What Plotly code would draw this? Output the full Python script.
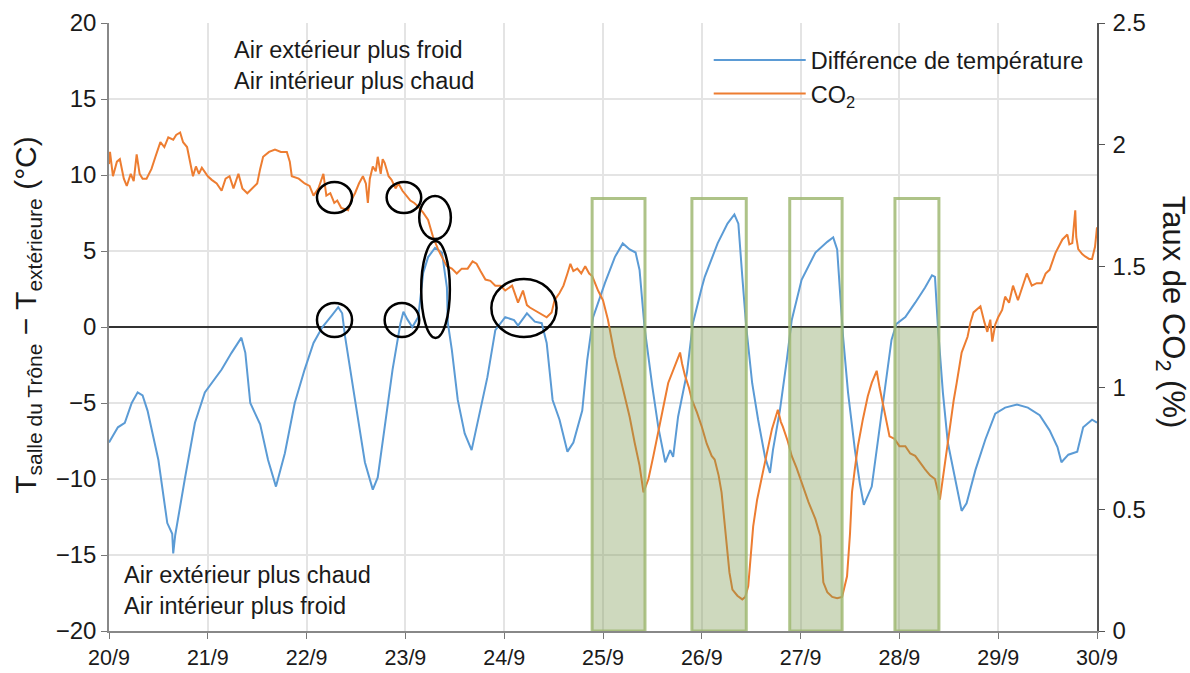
import plotly.graph_objects as go

# ---------------- data ----------------
day_ticks = [20, 21, 22, 23, 24, 25, 26, 27, 28, 29, 30]
day_labels = ["20/9", "21/9", "22/9", "23/9", "24/9", "25/9", "26/9", "27/9", "28/9", "29/9", "30/9"]

temp_days = [20.00, 20.09, 20.16, 20.23, 20.29, 20.34, 20.39, 20.50, 20.59, 20.64, 20.65, 20.67, 20.77, 20.87, 20.97,
             21.14, 21.24, 21.34, 21.38, 21.43, 21.53, 21.61, 21.69, 21.78, 21.88, 21.98, 22.07, 22.16, 22.26, 22.32,
             22.36, 22.39, 22.49, 22.59, 22.67, 22.72, 22.79, 22.87, 22.95, 22.98, 23.02, 23.07, 23.13, 23.18, 23.23,
             23.30, 23.37, 23.42, 23.43, 23.47, 23.53, 23.60, 23.67, 23.73, 23.83, 23.91, 24.01, 24.10, 24.14, 24.23,
             24.31, 24.38, 24.43, 24.49, 24.56, 24.64, 24.70, 24.79, 24.84, 24.90, 25.02, 25.12, 25.20, 25.27, 25.33,
             25.37, 25.42, 25.50, 25.56, 25.63, 25.68, 25.71, 25.76, 25.85, 25.91, 26.00, 26.03, 26.16, 26.26, 26.33,
             26.37, 26.41, 26.45, 26.51, 26.57, 26.64, 26.69, 26.72, 26.79, 26.86, 26.91, 27.01, 27.15, 27.27, 27.33,
             27.37, 27.40, 27.43, 27.48, 27.55, 27.60, 27.64, 27.72, 27.78, 27.85, 27.92, 27.97, 28.06, 28.16, 28.26,
             28.33, 28.36, 28.39, 28.44, 28.49, 28.56, 28.63, 28.68, 28.77, 28.87, 28.97, 29.07, 29.19, 29.30, 29.42,
             29.52, 29.60, 29.64, 29.71, 29.80, 29.86, 29.95, 30.00]
temp_diff = [-7.6, -6.6, -6.3, -5.0, -4.3, -4.5, -5.5, -8.75, -12.9, -13.6, -14.9, -13.7, -9.9, -6.3, -4.3,
             -2.8, -1.7, -0.7, -1.7, -5.0, -6.4, -8.75, -10.5, -8.3, -5.0, -2.8, -1.05, 0.0, 0.8, 1.3,
             0.9, -0.65, -4.8, -8.9, -10.7, -9.9, -6.6, -2.8, 0.25, 1.0, 0.5, 0.0, 0.65, 3.55, 4.6,
             5.2, 4.9, 2.6, 0.25, -1.5, -4.8, -7.0, -8.1, -6.3, -3.3, -0.2, 0.65, 0.45, 0.1, 0.9,
             0.35, 0.25, -1.05, -4.8, -6.1, -8.2, -7.6, -5.5, -2.2, 0.65, 2.9, 4.6, 5.5, 5.1, 4.9,
             3.75, 0.0, -3.95, -6.6, -8.9, -8.1, -8.55, -5.9, -3.0, 0.25, 2.6, 3.3, 5.5, 6.8, 7.4,
             6.8, 3.3, 0.0, -3.7, -6.1, -8.55, -9.6, -8.1, -5.5, -2.2, 0.45, 3.1, 4.9, 5.6, 5.9,
             5.1, 2.0, -0.65, -4.3, -8.1, -10.3, -11.7, -10.5, -7.6, -3.95, -0.85, 0.2, 0.65, 1.6, 2.6,
             3.4, 3.3, 0.0, -4.3, -7.6, -9.9, -12.1, -11.6, -9.4, -7.4, -5.7, -5.3, -5.1, -5.3, -5.8,
             -6.8, -7.9, -8.9, -8.4, -8.2, -6.6, -6.1, -6.3]

co2_days = [20.00, 20.01, 20.04, 20.08, 20.11, 20.15, 20.18, 20.22, 20.25, 20.28, 20.31, 20.34, 20.38, 20.43, 20.47,
            20.52, 20.56, 20.60, 20.65, 20.68, 20.72, 20.75, 20.79, 20.82, 20.85, 20.88, 20.91, 20.94, 21.00, 21.04,
            21.09, 21.14, 21.18, 21.22, 21.26, 21.31, 21.35, 21.40, 21.45, 21.50, 21.53, 21.56, 21.62, 21.68, 21.74,
            21.80, 21.83, 21.85, 21.92, 21.98, 22.03, 22.07, 22.12, 22.17, 22.20, 22.24, 22.28, 22.31, 22.35, 22.42,
            22.45, 22.49, 22.53, 22.57, 22.60, 22.62, 22.64, 22.67, 22.70, 22.72, 22.75, 22.77, 22.79, 22.83, 22.86,
            22.90, 22.93, 22.97, 23.01, 23.05, 23.09, 23.13, 23.18, 23.23, 23.28, 23.33, 23.38, 23.42, 23.47, 23.52,
            23.57, 23.63, 23.68, 23.72, 23.76, 23.81, 23.86, 23.91, 23.96, 24.01, 24.08, 24.14, 24.19, 24.23, 24.26,
            24.30, 24.34, 24.38, 24.43, 24.48, 24.51, 24.56, 24.60, 24.64, 24.67, 24.70, 24.74, 24.78, 24.82, 24.86,
            24.89, 24.95, 25.00, 25.05, 25.08, 25.12, 25.17, 25.22, 25.27, 25.32, 25.37, 25.41, 25.46, 25.51, 25.56,
            25.61, 25.66, 25.70, 25.73, 25.76, 25.78, 25.80, 25.83, 25.87, 25.90, 25.95, 26.00, 26.05, 26.10, 26.13,
            26.17, 26.20, 26.25, 26.28, 26.31, 26.36, 26.41, 26.44, 26.47, 26.50, 26.52, 26.56, 26.61, 26.66, 26.71,
            26.74, 26.77, 26.80, 26.82, 26.87, 26.91, 26.96, 27.02, 27.08, 27.15, 27.20, 27.23, 27.27, 27.32, 27.37,
            27.42, 27.47, 27.50, 27.52, 27.55, 27.58, 27.63, 27.68, 27.72, 27.77, 27.80, 27.83, 27.87, 27.90, 27.95,
            28.00, 28.06, 28.11, 28.16, 28.21, 28.26, 28.31, 28.36, 28.41, 28.46, 28.51, 28.55, 28.58, 28.63, 28.69,
            28.72, 28.75, 28.82, 28.86, 28.89, 28.92, 28.94, 28.97, 29.00, 29.04, 29.07, 29.11, 29.15, 29.20, 29.25,
            29.29, 29.34, 29.39, 29.44, 29.48, 29.52, 29.55, 29.58, 29.65, 29.70, 29.72, 29.75, 29.78, 29.79, 29.81,
            29.85, 29.88, 29.92, 29.95, 29.98, 30.00]
co2_pct = [1.92, 1.97, 1.87, 1.93, 1.94, 1.86, 1.83, 1.88, 1.85, 1.96, 1.88, 1.86, 1.86, 1.90, 1.95,
           2.01, 1.99, 2.03, 2.02, 2.04, 2.05, 2.01, 1.99, 1.93, 1.87, 1.91, 1.88, 1.905, 1.87, 1.855,
           1.84, 1.81, 1.86, 1.87, 1.82, 1.88, 1.82, 1.80, 1.82, 1.84, 1.90, 1.95, 1.97, 1.98, 1.97,
           1.97, 1.93, 1.87, 1.86, 1.84, 1.83, 1.79, 1.82, 1.88, 1.79, 1.80, 1.76, 1.77, 1.74, 1.73,
           1.77, 1.80, 1.84, 1.87, 1.84, 1.76, 1.86, 1.91, 1.89, 1.95, 1.88, 1.94, 1.925, 1.87, 1.855,
           1.82, 1.84, 1.81, 1.79, 1.77, 1.76, 1.745, 1.72, 1.69, 1.62, 1.57, 1.53, 1.50, 1.49, 1.47,
           1.49, 1.49, 1.52, 1.51, 1.48, 1.445, 1.44, 1.42, 1.42, 1.40, 1.42, 1.35, 1.40, 1.34, 1.33,
           1.32, 1.31, 1.30, 1.29, 1.31, 1.36, 1.39, 1.42, 1.47, 1.51, 1.48, 1.49, 1.47, 1.50, 1.47,
           1.46, 1.40, 1.36, 1.28, 1.22, 1.13, 1.05, 0.965, 0.88, 0.775, 0.68, 0.57, 0.625, 0.72, 0.815,
           0.92, 1.02, 1.06, 1.09, 1.12, 1.145, 1.10, 1.05, 1.00, 0.95, 0.90, 0.84, 0.77, 0.72, 0.705,
           0.64, 0.57, 0.365, 0.24, 0.17, 0.145, 0.13, 0.14, 0.185, 0.32, 0.43, 0.54, 0.635, 0.74, 0.83,
           0.87, 0.91, 0.86, 0.84, 0.78, 0.72, 0.67, 0.595, 0.53, 0.46, 0.39, 0.20, 0.16, 0.14, 0.135,
           0.14, 0.225, 0.40, 0.57, 0.67, 0.76, 0.87, 0.965, 1.02, 1.07, 1.00, 0.94, 0.86, 0.80, 0.79,
           0.76, 0.76, 0.73, 0.72, 0.69, 0.665, 0.64, 0.625, 0.54, 0.69, 0.84, 0.95, 1.02, 1.145, 1.21,
           1.27, 1.31, 1.335, 1.27, 1.23, 1.28, 1.19, 1.26, 1.29, 1.32, 1.375, 1.35, 1.42, 1.36, 1.42,
           1.47, 1.42, 1.43, 1.43, 1.47, 1.485, 1.52, 1.555, 1.61, 1.63, 1.59, 1.595, 1.73, 1.62, 1.57,
           1.55, 1.54, 1.53, 1.53, 1.58, 1.66]

# ventilation periods (start day, end day) and top of the outline box (°C)
vent_start = [24.89, 25.90, 26.89, 27.955]
vent_end = [25.425, 26.45, 27.42, 28.40]
vent_top = 8.45

# highlighted zones (x0, x1, y0, y1) in day / °C
mark_x0 = [22.105, 22.81, 23.14, 23.16, 22.105, 22.79, 23.87]
mark_x1 = [22.46, 23.16, 23.46, 23.45, 22.46, 23.14, 24.53]
mark_y0 = [7.5, 7.5, 5.79, -0.72, -0.66, -0.66, -0.66]
mark_y1 = [9.54, 9.54, 8.62, 5.66, 1.58, 1.58, 3.16]

FONT = "Arial, Liberation Sans, sans-serif"
TXT = "#1a1a1a"

fig = go.Figure()
fig.add_trace(go.Scatter(x=temp_days, y=temp_diff, mode="lines", name="Différence de température",
                         line=dict(color="#5B9BD5", width=2), yaxis="y"))
fig.add_trace(go.Scatter(x=co2_days, y=co2_pct, mode="lines", name="CO<sub>2</sub>",
                         line=dict(color="#ED7D31", width=2), yaxis="y2"))

shapes = []
for s, e in zip(vent_start, vent_end):
    shapes.append(dict(type="rect", xref="x", yref="y", x0=s, x1=e, y0=-20, y1=0,
                       fillcolor="rgba(125,155,85,0.38)", line=dict(width=0), layer="above"))
    shapes.append(dict(type="rect", xref="x", yref="y", x0=s, x1=e, y0=-20, y1=vent_top,
                       fillcolor="rgba(0,0,0,0)", line=dict(color="rgba(160,185,115,0.85)", width=3),
                       layer="above"))
for a, b, c, d in zip(mark_x0, mark_x1, mark_y0, mark_y1):
    shapes.append(dict(type="circle", xref="x", yref="y", x0=a, x1=b, y0=c, y1=d,
                       line=dict(color="black", width=2.5), layer="above"))

annotations = [
    dict(text="Air extérieur plus froid<br>Air intérieur plus chaud", xref="paper", yref="paper",
         x=0.1245, y=0.98, xanchor="left", yanchor="top", align="left", showarrow=False,
         font=dict(size=23.5, color=TXT, family=FONT)),
    dict(text="Air extérieur plus chaud<br>Air intérieur plus froid", xref="paper", yref="paper",
         x=0.013, y=0.016, xanchor="left", yanchor="bottom", align="left", showarrow=False,
         font=dict(size=23.5, color=TXT, family=FONT)),
    dict(text="T<sub>salle du Trône</sub> − T<sub>extérieure</sub> (°C)", xref="paper", yref="paper",
         x=-0.082, y=0.52, xanchor="center", yanchor="middle", textangle=-90, showarrow=False,
         font=dict(size=30, color=TXT, family=FONT)),
    dict(text="Taux de CO<sub>2</sub> (%)", xref="paper", yref="paper",
         x=1.075, y=0.525, xanchor="center", yanchor="middle", textangle=90, showarrow=False,
         font=dict(size=31, color=TXT, family=FONT)),
]

fig.update_layout(
    width=1190, height=673,
    margin=dict(l=109, r=93, t=23, b=42, autoexpand=False),
    paper_bgcolor="white", plot_bgcolor="white",
    font=dict(family=FONT, color=TXT),
    showlegend=True,
    legend=dict(x=0.607, y=0.975, xanchor="left", yanchor="top", bgcolor="rgba(0,0,0,0)",
                font=dict(size=23.5, color=TXT, family=FONT), itemwidth=92, tracegroupgap=0),
    xaxis=dict(range=[20, 30], tickvals=day_ticks, ticktext=day_labels, showgrid=True,
               gridcolor="#e4e4e4", gridwidth=1.5, ticks="outside", ticklen=6, tickcolor="#777",
               showline=True, linecolor="#888", linewidth=1.5, zeroline=False, automargin=False,
               tickfont=dict(size=21.5, color=TXT, family=FONT)),
    yaxis=dict(range=[-20, 20], dtick=5, showgrid=True, gridcolor="#e4e4e4", gridwidth=1.5,
               ticks="outside", ticklen=6, tickcolor="#777", showline=True, linecolor="#888",
               linewidth=1.5, zeroline=True, zerolinecolor="#333", zerolinewidth=2, automargin=False,
               tickfont=dict(size=24, color=TXT, family=FONT)),
    yaxis2=dict(range=[0, 2.5], dtick=0.5, overlaying="y", side="right", showgrid=False,
                ticks="outside", ticklen=6, tickcolor="#555", showline=True, linecolor="#555",
                linewidth=1.5, zeroline=False, ticklabelstandoff=3, automargin=False,
                tickfont=dict(size=24, color=TXT, family=FONT)),
    shapes=shapes,
    annotations=annotations,
)

fig.write_html("out.html", config={"displayModeBar": False},
               post_script="document.body.style.margin='0';document.body.style.overflow='hidden';"
                           "document.documentElement.style.overflow='hidden';")
